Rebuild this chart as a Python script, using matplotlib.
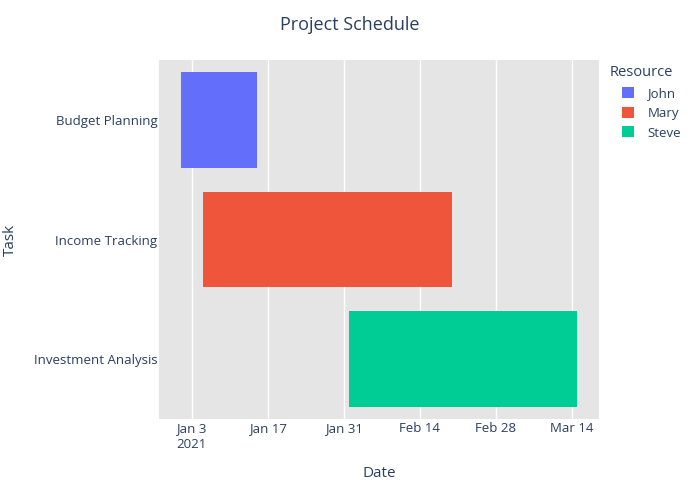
import matplotlib
matplotlib.use("Agg")
import matplotlib.pyplot as plt
import matplotlib.dates as mdates
from matplotlib.patches import Patch
import numpy as np
import pandas as pd

tasks = ["Budget Planning", "Income Tracking", "Investment Analysis"]
starts = ["2021-01-01", "2021-01-05", "2021-02-01"]
finishes = ["2021-01-15", "2021-02-20", "2021-03-15"]
resources = ["John", "Mary", "Steve"]
colors = {"John": "#636efa", "Mary": "#ef553b", "Steve": "#00cc96"}
tick_dates = ["2021-01-03", "2021-01-17", "2021-01-31", "2021-02-14", "2021-02-28", "2021-03-14"]
tick_labels = ["Jan 3\n2021", "Jan 17", "Jan 31", "Feb 14", "Feb 28", "Mar 14"]

text_color = "#2a3f5f"
plt.rcParams["font.family"] = ["Open Sans", "DejaVu Sans"]

fig = plt.figure(figsize=(7, 5), dpi=100)
ax = fig.add_axes([159 / 700, 1 - 419 / 500, 440 / 700, 359 / 500])
ax.set_facecolor("#e5e5e5")

start_num = mdates.date2num(pd.to_datetime(starts))
end_num = mdates.date2num(pd.to_datetime(finishes))
y_pos = np.arange(len(tasks))
for y, s, e, r in zip(y_pos, start_num, end_num, resources):
    ax.barh(y, e - s, left=s, height=0.8, color=colors[r], zorder=3)

span = end_num.max() - start_num.min()
pad = 0.055 * span
ax.set_xlim(start_num.min() - pad, end_num.max() + pad)
ax.set_ylim(len(tasks) - 0.5, -0.5)

ax.set_xticks(mdates.date2num(pd.to_datetime(tick_dates)))
ax.set_xticklabels(tick_labels, ha="center", va="top", multialignment="left",
                   linespacing=1.3)
ax.set_yticks(y_pos)
ax.set_yticklabels(tasks)
ax.tick_params(axis="both", length=0, labelsize=9.5, labelcolor=text_color)
ax.tick_params(axis="x", pad=2)
ax.tick_params(axis="y", pad=1)
ax.grid(axis="x", color="white", linewidth=1, zorder=1)
ax.grid(axis="y", visible=False)
for spine in ax.spines.values():
    spine.set_visible(False)

ax.set_xlabel("Date", fontsize=11, color=text_color, labelpad=11)
ax.set_ylabel("Task", fontsize=11, color=text_color, labelpad=11.5)
fig.text(0.5, 1 - 25 / 500, "Project Schedule", ha="center", va="center",
         fontsize=13, color=text_color)

fig.text(610 / 700, 1 - 73 / 500, "Resource", ha="left", va="center",
         fontsize=10.5, color=text_color)
handles = [Patch(facecolor=colors[r], label=r) for r in resources]
leg = fig.legend(handles=handles, loc="upper left",
                 bbox_to_anchor=(613 / 700, 1 - 78 / 500), frameon=False,
                 fontsize=9.5, handlelength=0.9, handleheight=0.9,
                 handletextpad=1.0, labelspacing=0.5, borderpad=0.2)
for t in leg.get_texts():
    t.set_color(text_color)

fig.savefig("out.png", dpi=100)
